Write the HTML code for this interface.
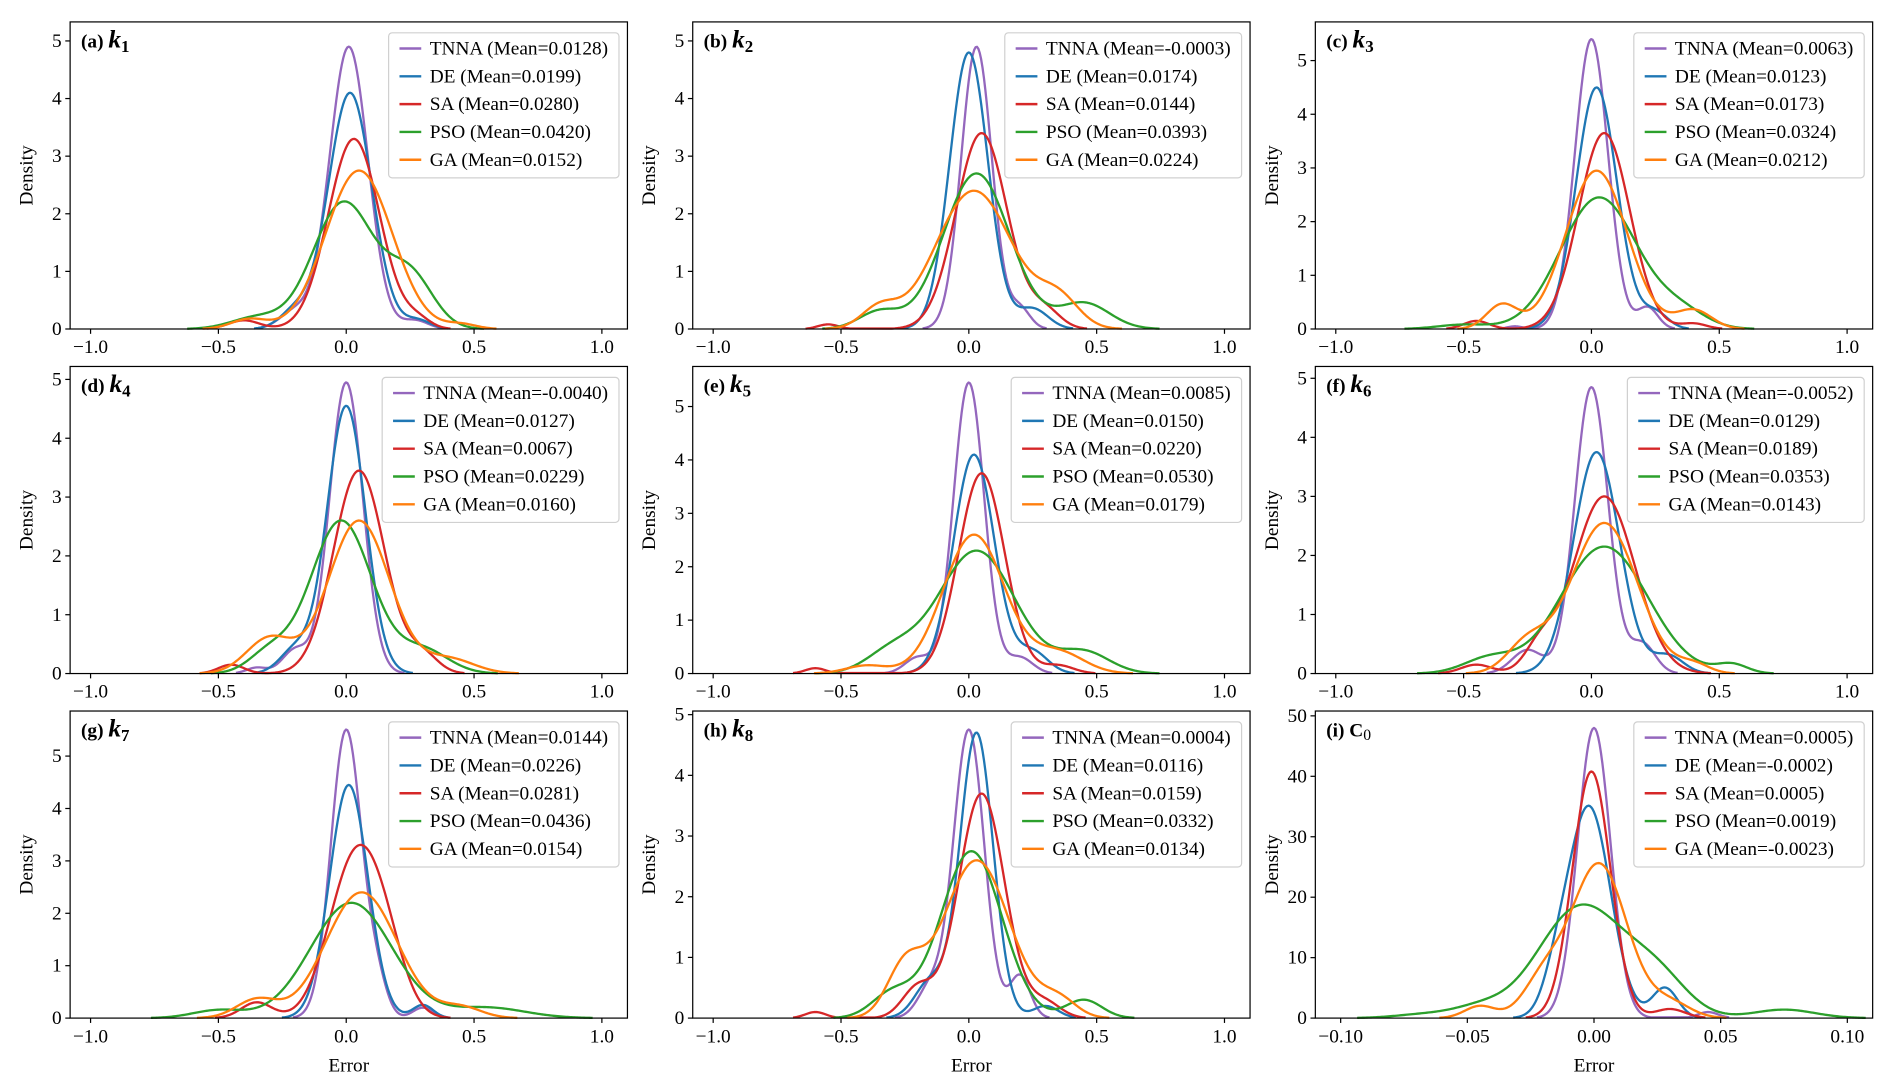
<!DOCTYPE html>
<html><head><meta charset="utf-8"><style>
html,body{margin:0;padding:0;background:#fff}
svg{display:block}
text{font-family:"Liberation Serif",serif;fill:#000}
</style></head><body>
<svg id="fig" width="1892" height="1092" viewBox="0 0 1565 903" xmlns="http://www.w3.org/2000/svg"></svg>
<script>
// ---- data ----
const seriesNames = ["TNNA","DE","SA","PSO","GA"];
const seriesColors = ["#9467bd","#1f77b4","#d62728","#2ca02c","#ff7f0e"];
const panelLabels = ["(a)","(b)","(c)","(d)","(e)","(f)","(g)","(h)","(i)"];
const panelVars = ["k1","k2","k3","k4","k5","k6","k7","k8","C0"];
const meansA = ["0.0128","0.0199","0.0280","0.0420","0.0152"];
const meansB = ["-0.0003","0.0174","0.0144","0.0393","0.0224"];
const meansC = ["0.0063","0.0123","0.0173","0.0324","0.0212"];
const meansD = ["-0.0040","0.0127","0.0067","0.0229","0.0160"];
const meansE = ["0.0085","0.0150","0.0220","0.0530","0.0179"];
const meansF = ["-0.0052","0.0129","0.0189","0.0353","0.0143"];
const meansG = ["0.0144","0.0226","0.0281","0.0436","0.0154"];
const meansH = ["0.0004","0.0116","0.0159","0.0332","0.0134"];
const meansI = ["0.0005","-0.0002","0.0005","0.0019","-0.0023"];
const xTicksK = [-1.0,-0.5,0.0,0.5,1.0];
const xTickLabelsK = ["\u22121.0","\u22120.5","0.0","0.5","1.0"];
const xTicksC = [-0.10,-0.05,0.00,0.05,0.10];
const xTickLabelsC = ["\u22120.10","\u22120.05","0.00","0.05","0.10"];
const yTicksK = [0,1,2,3,4,5];
const yTicksC = [0,10,20,30,40,50];
const yMaxes = [5.33,5.33,5.72,5.22,5.75,5.2,5.86,5.06,50.8];
// density components per series: [center, height, sd]
const compA = [[[0.01,4.9,0.075],[0.27,0.15,0.05],[-0.2,0.3,0.06]],[[0.015,4.1,0.085],[0.28,0.15,0.05],[-0.2,0.3,0.06]],[[0.03,3.3,0.1],[-0.4,0.15,0.06],[0.28,0.15,0.05]],[[-0.01,2.2,0.12],[0.25,0.9,0.09],[-0.35,0.2,0.1]],[[0.05,2.75,0.13],[-0.38,0.17,0.07],[0.45,0.08,0.06]]];
const compB = [[[0.03,4.9,0.06],[0.2,0.35,0.04]],[[0.0,4.8,0.075],[0.25,0.35,0.06]],[[0.05,3.4,0.1],[0.3,0.3,0.06],[-0.55,0.08,0.04]],[[0.03,2.7,0.13],[0.45,0.45,0.1],[-0.35,0.3,0.08]],[[0.02,2.4,0.15],[0.35,0.5,0.08],[-0.35,0.35,0.07]]];
const compC = [[[0.0,5.4,0.065],[0.22,0.4,0.04],[-0.3,0.05,0.03]],[[0.02,4.5,0.08],[0.25,0.3,0.05]],[[0.05,3.65,0.1],[0.4,0.1,0.05],[-0.45,0.15,0.05]],[[0.03,2.45,0.15],[0.35,0.3,0.1],[-0.5,0.08,0.1]],[[0.02,2.95,0.12],[0.4,0.35,0.07],[-0.35,0.45,0.06]]];
const compD = [[[0.0,4.95,0.065],[-0.2,0.4,0.05],[-0.35,0.1,0.04]],[[0.0,4.55,0.075],[-0.2,0.4,0.06]],[[0.05,3.45,0.1],[-0.45,0.15,0.05],[0.3,0.3,0.06]],[[-0.02,2.6,0.12],[0.3,0.4,0.1],[-0.3,0.35,0.08]],[[0.05,2.6,0.12],[-0.3,0.6,0.09],[0.4,0.25,0.1]]];
const compE = [[[0.0,5.45,0.06],[0.2,0.3,0.05],[-0.2,0.3,0.05]],[[0.02,4.1,0.08],[0.25,0.4,0.06]],[[0.05,3.75,0.09],[-0.6,0.1,0.04],[0.35,0.15,0.06]],[[0.03,2.3,0.15],[0.45,0.4,0.1],[-0.3,0.4,0.1]],[[0.02,2.6,0.12],[0.35,0.4,0.1],[-0.4,0.15,0.08]]];
const compF = [[[0.0,4.85,0.065],[0.2,0.5,0.05],[-0.25,0.4,0.06]],[[0.02,3.75,0.09],[0.3,0.3,0.06]],[[0.05,3.0,0.12],[-0.45,0.15,0.06],[-0.2,0.4,0.06]],[[0.05,2.15,0.17],[0.55,0.15,0.06],[-0.4,0.25,0.1]],[[0.05,2.55,0.13],[-0.25,0.5,0.08],[0.4,0.15,0.06]]];
const compG = [[[0.0,5.5,0.06],[0.3,0.2,0.04],[0.12,0.6,0.04]],[[0.01,4.45,0.075],[0.3,0.25,0.04]],[[0.03,2.9,0.1],[-0.35,0.3,0.06],[0.15,1.0,0.08]],[[0.02,2.2,0.16],[0.55,0.2,0.15],[-0.5,0.15,0.1]],[[0.06,2.4,0.14],[-0.35,0.35,0.08],[0.45,0.2,0.08]]];
const compH = [[[0.0,4.75,0.06],[0.2,0.7,0.04],[-0.15,0.5,0.05]],[[0.03,4.7,0.065],[-0.15,0.6,0.06],[0.3,0.2,0.05]],[[0.05,3.7,0.09],[-0.6,0.1,0.04],[-0.2,0.5,0.06],[0.3,0.25,0.06]],[[0.01,2.75,0.12],[0.45,0.3,0.07],[-0.3,0.4,0.08]],[[0.03,2.6,0.13],[-0.25,0.8,0.07],[0.35,0.3,0.07]]];
const compI = [[[0.0,48,0.0065],[0.045,1,0.004]],[[-0.002,35,0.0085],[0.028,5,0.005],[-0.015,4,0.005]],[[-0.001,40.8,0.0075],[0.03,1.5,0.006]],[[-0.005,18.5,0.017],[0.025,6,0.012],[0.075,1.4,0.012],[-0.065,0.7,0.012],[-0.045,1.5,0.01]],[[0.002,25.5,0.011],[-0.02,6,0.008],[-0.045,2,0.006],[0.03,2.5,0.008]]];

const allMeans=[meansA,meansB,meansC,meansD,meansE,meansF,meansG,meansH,meansI];
const allComps=[compA,compB,compC,compD,compE,compF,compG,compH,compI];
const NS="http://www.w3.org/2000/svg";
const svg=document.getElementById('fig');
function mk(tag,attrs,parent){const e=document.createElementNS(NS,tag);for(const k in attrs)e.setAttribute(k,attrs[k]);(parent||svg).appendChild(e);return e;}
const colX=[58,573,1088], rowY=[18,303,588], PW=461, PH=254;

for(let p=0;p<9;p++){
  const x0=colX[p%3], y0=rowY[Math.floor(p/3)];
  const isC=(p===8);
  const xmin=isC?-0.11:-1.08, xmax=isC?0.11:1.1;
  const ymax=yMaxes[p];
  const sx=v=>x0+(v-xmin)/(xmax-xmin)*PW;
  const sy=v=>y0+PH-v/ymax*PH;
  const g=mk('g',{});
  
  
  const comps=allComps[p];
  comps.forEach((cs,si)=>{
    const N=400; let pts=[];
    let peak=0;const vals=[];
    for(let i=0;i<=N;i++){const x=xmin+(xmax-xmin)*i/N;let d=0;cs.forEach(c=>{d+=c[1]*Math.exp(-0.5*((x-c[0])/c[2])**2);});vals.push([x,d]);if(d>peak)peak=d;}
    vals.forEach(v=>{if(v[1]>peak*0.002)pts.push(sx(v[0]).toFixed(2)+','+sy(v[1]).toFixed(2));});
    const pl=mk('polyline',{points:pts.join(' '),fill:'none',stroke:seriesColors[si],'stroke-width':1.9,'stroke-linejoin':'round'},g);
    
    
  });
  const fr=mk('rect',{x:x0,y:y0,width:PW,height:PH,fill:'none',stroke:'#000','stroke-width':1},g);
  
  
  const xt=isC?xTicksC:xTicksK, xl=isC?xTickLabelsC:xTickLabelsK;
  xt.forEach((v,i)=>{
    mk('line',{x1:sx(v),x2:sx(v),y1:y0+PH,y2:y0+PH+4,stroke:'#000'},g);
    const t=mk('text',{x:sx(v),y:y0+PH+20,'text-anchor':'middle','font-size':16},g);
    t.textContent=xl[i];
    
    
  });
  const yt=isC?yTicksC:yTicksK;
  yt.forEach(v=>{
    mk('line',{x1:x0-4,x2:x0,y1:sy(v),y2:sy(v),stroke:'#000'},g);
    const t=mk('text',{x:x0-7,y:sy(v)+5,'text-anchor':'end','font-size':16},g);
    t.textContent=String(v);
    
    
  });
  const yl=mk('text',{x:0,y:0,'text-anchor':'middle','font-size':16,transform:`translate(${x0-31},${y0+PH/2}) rotate(-90)`},g);
  yl.textContent='Density';
  
  
  if(p>=6){
    const xtl=mk('text',{x:x0+PW/2,y:y0+PH+44,'text-anchor':'middle','font-size':16},g);
    xtl.textContent='Error';
    
    
  }
  const tt=mk('text',{x:x0+9,y:y0+21,'font-size':16,'font-weight':'bold'},g);
  
  
  const lab=panelVars[p];
  if(isC){tt.innerHTML=`${panelLabels[p]} C<tspan font-size="13" dy="3" font-weight="normal">0</tspan>`;}
  else{tt.innerHTML=`${panelLabels[p]} <tspan font-size="21" font-style="italic">k</tspan><tspan font-size="14" dy="4">${lab.slice(1)}</tspan>`;}
  const lg=mk('g',{},g);
  
  
  const box=mk('rect',{fill:'#fff',stroke:'#d0d0d0','stroke-width':1,rx:3},lg);
  const texts=[];
  seriesNames.forEach((n,si)=>{
    const t=mk('text',{x:0,y:0,'font-size':16},lg);
    t.textContent=`${n} (Mean=${allMeans[p][si]})`;
    
    
    texts.push(t);
  });
  let w=0;texts.forEach(t=>{w=Math.max(w,t.getComputedTextLength());});
  const bw=w+43, bx=x0+PW-7-bw, by=y0+9;
  box.setAttribute('x',bx);box.setAttribute('y',by);box.setAttribute('width',bw);box.setAttribute('height',120);
  texts.forEach((t,si)=>{
    const yy=by+13+si*23;
    t.setAttribute('x',bx+34);t.setAttribute('y',yy+5);
    const ln=mk('line',{x1:bx+9,x2:bx+27,y1:yy,y2:yy,stroke:seriesColors[si],'stroke-width':2},lg);
    
    
  });
}
</script>
</body></html>
